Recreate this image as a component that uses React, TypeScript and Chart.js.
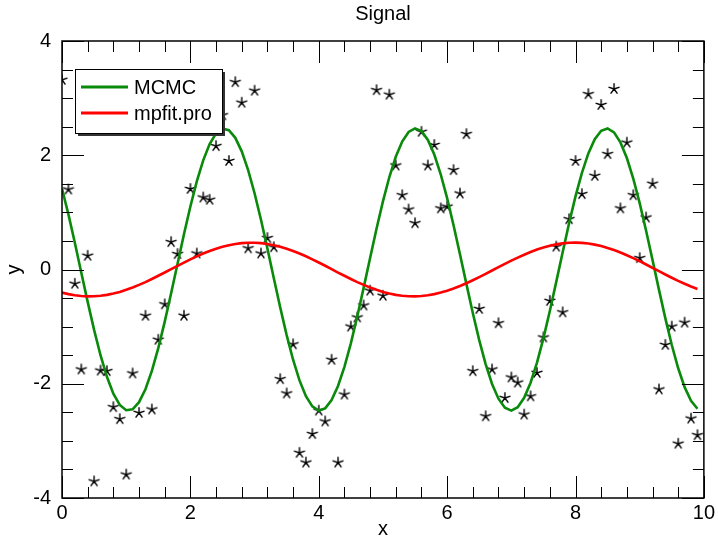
import React, { useEffect, useRef } from 'react';
import { Chart, registerables } from 'chart.js';

Chart.register(...registerables);

const FONT = '"Liberation Sans", Arial, Helvetica, sans-serif';

const TITLE = 'Signal';
const X_TITLE = 'x';
const Y_TITLE = 'y';
const SERIES_NAMES = ['MCMC', 'mpfit.pro'];
const SERIES_COLORS = ['#0a8a0a', '#ff0000'];

const xValues = [
  0, 0.1, 0.2, 0.3, 0.4, 0.5, 0.6, 0.7, 0.8, 0.9,
  1, 1.1, 1.2, 1.3, 1.4, 1.5, 1.6, 1.7, 1.8, 1.9,
  2, 2.1, 2.2, 2.3, 2.4, 2.5, 2.6, 2.7, 2.8, 2.9,
  3, 3.1, 3.2, 3.3, 3.4, 3.5, 3.6, 3.7, 3.8, 3.9,
  4, 4.1, 4.2, 4.3, 4.4, 4.5, 4.6, 4.7, 4.8, 4.9,
  5, 5.1, 5.2, 5.3, 5.4, 5.5, 5.6, 5.7, 5.8, 5.9,
  6, 6.1, 6.2, 6.3, 6.4, 6.5, 6.6, 6.7, 6.8, 6.9,
  7, 7.1, 7.2, 7.3, 7.4, 7.5, 7.6, 7.7, 7.8, 7.9,
  8, 8.1, 8.2, 8.3, 8.4, 8.5, 8.6, 8.7, 8.8, 8.9,
  9, 9.1, 9.2, 9.3, 9.4, 9.5, 9.6, 9.7, 9.8, 9.9,
];

// observed signal (stars)
const signal = [
  3.32, 1.40, -0.25, -1.75, 0.24, -3.71, -1.77, -1.78, -2.41, -2.62,
  -3.59, -1.82, -2.51, -0.81, -2.45, -1.23, -0.61, 0.48, 0.27, -0.81,
  1.41, 0.28, 1.26, 1.22, 2.16, 2.70, 1.90, 3.28, 2.92, 0.37,
  3.13, 0.28, 0.55, 0.39, -1.92, -2.17, -1.31, -3.21, -3.38, -2.88,
  -2.47, -2.66, -1.58, -3.38, -2.19, -1.00, -0.84, -0.63, -0.37, 3.14,
  -0.46, 3.06, 1.82, 1.30, 1.05, 0.81, 2.41, 1.82, 2.18, 1.07,
  1.10, 1.74, 1.33, 2.37, -1.78, -0.69, -2.57, -1.75, -0.94, -2.25,
  -1.89, -1.98, -2.54, -2.22, -1.81, -1.19, -0.55, 0.40, -0.75, 0.88,
  1.90, 1.32, 3.07, 1.64, 2.88, 2.02, 3.16, 1.07, 2.22, 1.30,
  0.20, 0.91, 1.50, -2.10, -1.32, -1.00, -3.05, -0.93, -2.61, -2.90,
];

// MCMC fit curve
const mcmc = [
  1.418, 0.964, 0.467, -0.051, -0.567, -1.057, -1.501, -1.879, -2.173, -2.370,
  -2.463, -2.447, -2.322, -2.096, -1.775, -1.377, -0.917, -0.417, 0.102, 0.616,
  1.103, 1.541, 1.911, 2.196, 2.384, 2.466, 2.440, 2.305, 2.068, 1.740,
  1.335, 0.870, 0.367, -0.152, -0.665, -1.148, -1.580, -1.942, -2.219, -2.397,
  -2.469, -2.431, -2.286, -2.040, -1.704, -1.292, -0.823, -0.317, 0.202, 0.713,
  1.192, 1.619, 1.973, 2.239, 2.408, 2.470, 2.422, 2.267, 2.012, 1.667,
  1.249, 0.775, 0.267, -0.252, -0.761, -1.236, -1.656, -2.003, -2.261, -2.419,
  -2.470, -2.411, -2.246, -1.982, -1.629, -1.205, -0.727, -0.217, 0.303, 0.809,
  1.279, 1.693, 2.033, 2.281, 2.429, 2.469, 2.400, 2.225, 1.952, 1.591,
  1.161, 0.679, 0.167, -0.352, -0.856, -1.322, -1.729, -2.060, -2.299, -2.437,
];

// mpfit.pro fit curve
const mpfit = [
  -0.404, -0.431, -0.451, -0.464, -0.470, -0.468, -0.459, -0.444, -0.421, -0.392,
  -0.356, -0.315, -0.270, -0.220, -0.166, -0.110, -0.053, 0.006, 0.064, 0.122,
  0.177, 0.230, 0.279, 0.324, 0.364, 0.398, 0.426, 0.447, 0.462, 0.469,
  0.469, 0.462, 0.447, 0.426, 0.398, 0.364, 0.325, 0.280, 0.231, 0.178,
  0.123, 0.066, 0.006, -0.053, -0.110, -0.166, -0.220, -0.270, -0.315, -0.356,
  -0.392, -0.421, -0.444, -0.460, -0.468, -0.470, -0.464, -0.451, -0.431, -0.404,
  -0.371, -0.332, -0.289, -0.240, -0.188, -0.133, -0.076, -0.018, 0.041, 0.099,
  0.155, 0.209, 0.259, 0.306, 0.349, 0.385, 0.416, 0.440, 0.457, 0.467,
  0.470, 0.466, 0.454, 0.435, 0.410, 0.378, 0.340, 0.298, 0.250, 0.199,
  0.145, 0.087, 0.029, -0.029, -0.087, -0.144, -0.199, -0.250, -0.298, -0.340,
];

const xMajorTicks = [0, 2, 4, 6, 8, 10];
const yMajorTicks = [-4, -2, 0, 2, 4];
const X_MINOR_PER_MAJOR = 5;
const Y_MINOR_PER_MAJOR = 4;

function makeStar(): HTMLCanvasElement {
  const c = document.createElement('canvas');
  c.width = 14;
  c.height = 14;
  const g = c.getContext('2d')!;
  g.strokeStyle = '#000';
  g.lineWidth = 1.4;
  g.lineCap = 'butt';
  g.beginPath();
  for (let k = 0; k < 5; k++) {
    const a = -Math.PI / 2 + (k * 2 * Math.PI) / 5;
    g.moveTo(7, 7);
    g.lineTo(7 + 5.8 * Math.cos(a), 7 + 5.8 * Math.sin(a));
  }
  g.stroke();
  return c;
}

const framePlugin = {
  id: 'frameTicks',
  afterDatasetsDraw(chart: any) {
    const { ctx, chartArea: a, scales } = chart;
    const xs = scales.x;
    const ys = scales.y;
    const MAJ = 22;
    const MIN = 11;
    ctx.save();
    ctx.strokeStyle = '#000';
    ctx.lineWidth = 1;
    ctx.beginPath();
    for (let i = 0; i < xMajorTicks.length; i++) {
      const v = xMajorTicks[i];
      const px = Math.round(xs.getPixelForValue(v)) + 0.5;
      ctx.moveTo(px, a.bottom); ctx.lineTo(px, a.bottom - MAJ);
      ctx.moveTo(px, a.top); ctx.lineTo(px, a.top + MAJ);
      if (i < xMajorTicks.length - 1) {
        const step = (xMajorTicks[i + 1] - v) / X_MINOR_PER_MAJOR;
        for (let k = 1; k < X_MINOR_PER_MAJOR; k++) {
          const mx = Math.round(xs.getPixelForValue(v + k * step)) + 0.5;
          ctx.moveTo(mx, a.bottom); ctx.lineTo(mx, a.bottom - MIN);
          ctx.moveTo(mx, a.top); ctx.lineTo(mx, a.top + MIN);
        }
      }
    }
    for (let i = 0; i < yMajorTicks.length; i++) {
      const v = yMajorTicks[i];
      const py = Math.round(ys.getPixelForValue(v)) + 0.5;
      ctx.moveTo(a.left, py); ctx.lineTo(a.left + MAJ, py);
      ctx.moveTo(a.right, py); ctx.lineTo(a.right - MAJ, py);
      if (i < yMajorTicks.length - 1) {
        const step = (yMajorTicks[i + 1] - v) / Y_MINOR_PER_MAJOR;
        for (let k = 1; k < Y_MINOR_PER_MAJOR; k++) {
          const my = Math.round(ys.getPixelForValue(v + k * step)) + 0.5;
          ctx.moveTo(a.left, my); ctx.lineTo(a.left + MIN, my);
          ctx.moveTo(a.right, my); ctx.lineTo(a.right - MIN, my);
        }
      }
    }
    ctx.stroke();
    ctx.lineWidth = 1.5;
    ctx.strokeRect(a.left, a.top, a.right - a.left, a.bottom - a.top);
    ctx.restore();
  },
};

const legendPlugin = {
  id: 'boxLegend',
  afterDraw(chart: any) {
    const { ctx, chartArea: a } = chart;
    const bx = a.left + 13;
    const by = a.top + 28;
    const bw = 147;
    const bh = 64;
    ctx.save();
    ctx.fillStyle = '#333';
    ctx.fillRect(bx + 3, by + 3, bw, bh);
    ctx.fillStyle = '#fff';
    ctx.fillRect(bx, by, bw, bh);
    ctx.strokeStyle = '#000';
    ctx.lineWidth = 1;
    ctx.strokeRect(bx + 0.5, by + 0.5, bw, bh);
    SERIES_NAMES.forEach((name, i) => {
      const d = chart.data.datasets.find((ds: any) => ds.label === name);
      if (!d) return;
      const cy = by + 18 + i * 26;
      ctx.strokeStyle = d.borderColor;
      ctx.lineWidth = 3;
      ctx.beginPath();
      ctx.moveTo(bx + 6, cy);
      ctx.lineTo(bx + 53, cy);
      ctx.stroke();
      ctx.fillStyle = '#000';
      ctx.font = `20px ${FONT}`;
      ctx.textBaseline = 'middle';
      ctx.textAlign = 'left';
      ctx.fillText(d.label, bx + 59, cy + 1);
    });
    ctx.restore();
  },
};

export default function App() {
  const ref = useRef<HTMLCanvasElement>(null);

  useEffect(() => {
    const star = makeStar();
    const pts = (ys: number[]) => xValues.map((x, i) => ({ x, y: ys[i] }));
    const chart = new Chart(ref.current!, {
      type: 'scatter',
      data: {
        datasets: [
          {
            label: SERIES_NAMES[1],
            data: pts(mpfit),
            showLine: true,
            borderColor: SERIES_COLORS[1],
            borderWidth: 2.6,
            pointRadius: 0,
            tension: 0,
            order: 1,
            clip: 0,
          } as any,
          {
            label: SERIES_NAMES[0],
            data: pts(mcmc),
            showLine: true,
            borderColor: SERIES_COLORS[0],
            borderWidth: 2.6,
            pointRadius: 0,
            tension: 0,
            order: 2,
            clip: 0,
          } as any,
          {
            label: 'data',
            data: pts(signal),
            showLine: false,
            pointStyle: star,
            pointRadius: 6,
            order: 3,
            clip: 0,
          } as any,
        ],
      },
      options: {
        responsive: false,
        animation: false,
        devicePixelRatio: 1,
        layout: { padding: { left: 0, right: 13, top: 0, bottom: 0 } },
        plugins: {
          legend: { display: false },
          tooltip: { enabled: false },
          title: {
            display: true,
            text: TITLE,
            fullSize: false,
            color: '#000',
            font: { family: FONT, size: 20, weight: 'normal', lineHeight: 1.2 },
            padding: { top: 2, bottom: 15 },
          },
        },
        scales: {
          x: {
            type: 'linear',
            min: 0,
            max: 10,
            afterBuildTicks: (s: any) => {
              s.ticks = xMajorTicks.map((v) => ({ value: v }));
            },
            ticks: {
              color: '#000',
              font: { family: FONT, size: 20 },
              padding: 3,
              maxRotation: 0,
              autoSkip: false,
            },
            grid: { display: false, drawTicks: false },
            border: { display: false },
            title: {
              display: true,
              text: X_TITLE,
              color: '#000',
              font: { family: FONT, size: 20, lineHeight: 0.8 },
              padding: 0,
            },
            afterFit: (s: any) => {
              s.height = 39;
            },
          },
          y: {
            type: 'linear',
            min: -4,
            max: 4,
            afterBuildTicks: (s: any) => {
              s.ticks = yMajorTicks.map((v) => ({ value: v }));
            },
            ticks: {
              color: '#000',
              font: { family: FONT, size: 20 },
              padding: 11,
              autoSkip: false,
            },
            grid: { display: false, drawTicks: false },
            border: { display: false },
            title: {
              display: true,
              text: Y_TITLE,
              color: '#000',
              font: { family: FONT, size: 20, lineHeight: 1.2 },
              padding: { top: 2, bottom: 0 },
            },
            afterFit: (s: any) => {
              s.width = 62;
            },
          },
        },
      } as any,
      plugins: [framePlugin, legendPlugin],
    });
    return () => chart.destroy();
  }, []);

  return (
    <div style={{ position: 'absolute', left: 0, top: 0, width: 718, height: 537, background: '#fff' }}>
      <canvas ref={ref} width={718} height={537} style={{ display: 'block' }} />
    </div>
  );
}
